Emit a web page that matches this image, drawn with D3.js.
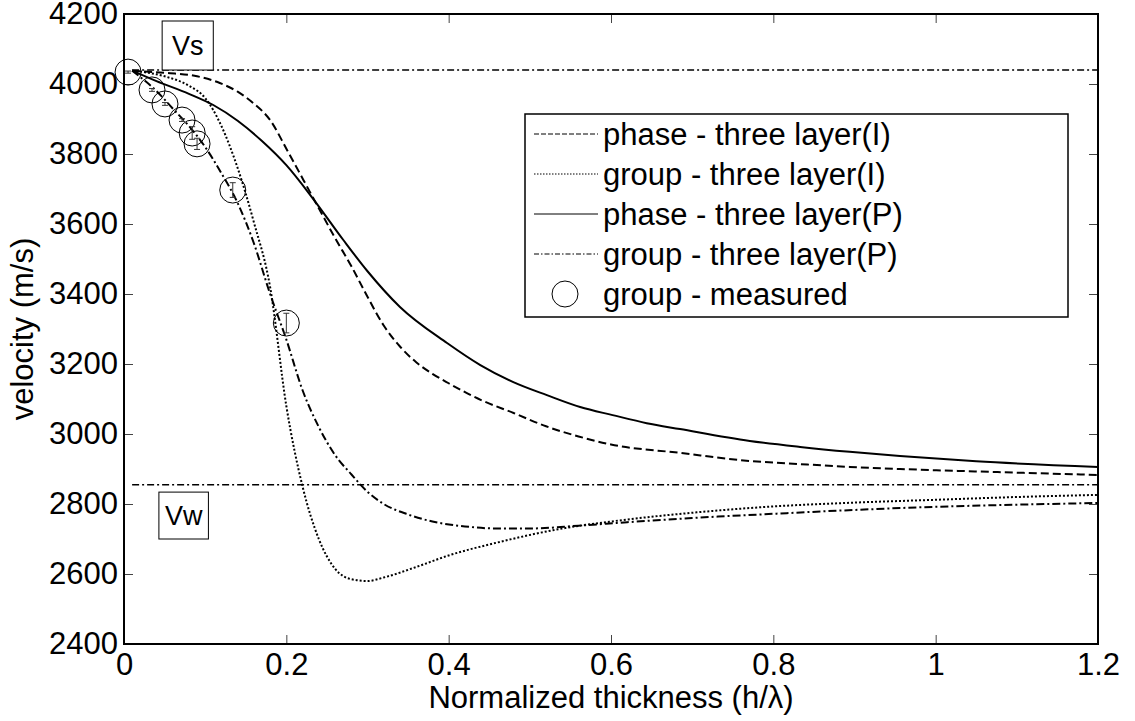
<!DOCTYPE html>
<html>
<head>
<meta charset="utf-8">
<script src="https://cdn.jsdelivr.net/npm/d3@7"></script>
<style>
  body { margin: 0; background: #fff; }
  text { font-family: "Liberation Sans", Arial, sans-serif; fill: #000; }
</style>
</head>
<body>
<div id="chart"></div>
<script>
// normalized thickness (h/lambda) and velocities (m/s)
var phaseI_x = [0.01, 0.03, 0.057, 0.09, 0.118, 0.14, 0.159, 0.18, 0.201, 0.221, 0.24, 0.26, 0.28, 0.30, 0.32, 0.34, 0.36, 0.38, 0.40, 0.44, 0.48, 0.52, 0.56, 0.60, 0.685, 0.771, 0.833, 0.894, 0.956, 1.05, 1.2];
var phaseI_v = [4038, 4035, 4031, 4022, 4003, 3978, 3946, 3897, 3811, 3726, 3645, 3560, 3480, 3392, 3310, 3250, 3205, 3172, 3145, 3097, 3060, 3022, 2993, 2970, 2946, 2923, 2914, 2906, 2900, 2893, 2883];

var groupI_x = [0.01, 0.03, 0.05, 0.08, 0.1, 0.12, 0.14, 0.16, 0.18, 0.2, 0.22, 0.24, 0.26, 0.28, 0.3, 0.32, 0.36, 0.4, 0.46, 0.54, 0.6, 0.7, 0.8, 0.9, 1.0, 1.1, 1.2];
var groupI_v = [4038, 4032, 4022, 3995, 3960, 3880, 3760, 3605, 3420, 3080, 2850, 2700, 2615, 2585, 2580, 2590, 2620, 2653, 2690, 2730, 2750, 2775, 2793, 2804, 2812, 2820, 2826];

var phaseP_x = [0.01, 0.04, 0.08, 0.11, 0.14, 0.17, 0.20, 0.233, 0.27, 0.30, 0.34, 0.398, 0.439, 0.479, 0.521, 0.562, 0.602, 0.644, 0.685, 0.771, 0.833, 0.894, 0.956, 1.05, 1.2];
var phaseP_v = [4038, 4008, 3972, 3940, 3895, 3837, 3768, 3672, 3555, 3465, 3363, 3260, 3197, 3149, 3111, 3077, 3054, 3031, 3014, 2980, 2963, 2949, 2937, 2922, 2906];

var groupP_x = [0.01, 0.02, 0.04, 0.06, 0.08, 0.1, 0.12, 0.14, 0.16, 0.18, 0.2, 0.22, 0.24, 0.26, 0.28, 0.3, 0.32, 0.35, 0.38, 0.42, 0.46, 0.5, 0.56, 0.62, 0.7, 0.8, 0.9, 1.0, 1.1, 1.2];
var groupP_v = [4038, 4020, 3980, 3930, 3880, 3820, 3745, 3660, 3545, 3400, 3270, 3125, 3020, 2940, 2885, 2835, 2800, 2770, 2750, 2736, 2730, 2730, 2738, 2748, 2760, 2772, 2783, 2792, 2798, 2803];

var measured_x = [0.005, 0.0345, 0.0505, 0.0715, 0.084, 0.09, 0.134, 0.2];
var measured_v = [4034, 3983, 3943, 3897, 3860, 3829, 3697, 3317];
var measured_err = [3, 4, 4, 4, 18, 16, 21, 28];

var Vs = 4040;
var Vw = 2855;

var xTicks = [0, 0.2, 0.4, 0.6, 0.8, 1, 1.2];
var yTicks = [2400, 2600, 2800, 3000, 3200, 3400, 3600, 3800, 4000, 4200];

var seriesNames = ['phase - three layer(I)', 'group - three layer(I)', 'phase - three layer(P)', 'group - three layer(P)', 'group - measured'];

var W = 1135, H = 721;
var margin = {left: 124, top: 14, right: 37, bottom: 77};
var width = W - margin.left - margin.right;
var height = H - margin.top - margin.bottom;

var svg = d3.select('#chart')
  .append('svg')
  .attr('width', W)
  .attr('height', H);

svg.append('rect').attr('width', W).attr('height', H).attr('fill', '#fff');

var x = d3.scaleLinear().domain([0, 1.2]).range([0, width]);
var y = d3.scaleLinear().domain([2400, 4200]).range([height, 0]);

var g = svg.append('g')
  .attr('transform', 'translate(' + margin.left + ',' + margin.top + ')');

// axes, ticks pointing inward like matlab
function styleAxis(sel) {
  sel.select('.domain').remove();
  sel.selectAll('.tick line').attr('stroke', '#444').attr('stroke-width', 1);
  sel.selectAll('.tick text').style('font-size', '31px').attr('fill', '#000');
}

g.append('g')
  .attr('transform', 'translate(0,' + height + ')')
  .call(d3.axisBottom(x).tickValues(xTicks).tickFormat(d3.format('~g')).tickSizeInner(-9).tickSizeOuter(0).tickPadding(9))
  .call(styleAxis);

g.append('g')
  .call(d3.axisLeft(y).tickValues(yTicks).tickFormat(d3.format('d')).tickSizeInner(-9).tickSizeOuter(0).tickPadding(6))
  .call(styleAxis);

g.append('g')
  .call(d3.axisTop(x).tickValues(xTicks).tickFormat('').tickSizeInner(-9).tickSizeOuter(0))
  .call(styleAxis);

g.append('g')
  .attr('transform', 'translate(' + width + ',0)')
  .call(d3.axisRight(y).tickValues(yTicks).tickFormat('').tickSizeInner(-9).tickSizeOuter(0))
  .call(styleAxis);

g.append('rect')
  .attr('width', width)
  .attr('height', height)
  .attr('fill', 'none')
  .attr('stroke', '#000')
  .attr('stroke-width', 2);

// axis labels
svg.append('text')
  .attr('x', margin.left + width / 2)
  .attr('y', 708)
  .attr('text-anchor', 'middle')
  .style('font-size', '31px')
  .text('Normalized thickness (h/\u03bb)');

svg.append('text')
  .attr('transform', 'translate(33,' + (margin.top + height / 2) + ') rotate(-90)')
  .attr('text-anchor', 'middle')
  .style('font-size', '31px')
  .text('velocity (m/s)');

// Vs / Vw reference lines
[Vs, Vw].forEach(function (v) {
  g.append('line')
    .attr('x1', x(0.01)).attr('x2', width)
    .attr('y1', y(v)).attr('y2', y(v))
    .attr('stroke', '#000')
    .attr('stroke-width', 1.5)
    .attr('stroke-dasharray', '7,3,2,3');
});

// boxed labels
var boxes = [
  {label: 'Vs', x0: 0.047, x1: 0.110, v0: 4180, v1: Vs},
  {label: 'Vw', x0: 0.043, x1: 0.104, v0: 2834, v1: 2700}
];
boxes.forEach(function (b) {
  g.append('rect')
    .attr('x', x(b.x0)).attr('y', y(b.v0))
    .attr('width', x(b.x1) - x(b.x0))
    .attr('height', y(b.v1) - y(b.v0))
    .attr('fill', '#fff')
    .attr('stroke', '#000')
    .attr('stroke-width', 1);
  g.append('text')
    .attr('x', (x(b.x0) + x(b.x1)) / 2)
    .attr('y', (y(b.v0) + y(b.v1)) / 2)
    .attr('dy', '0.36em')
    .attr('text-anchor', 'middle')
    .style('font-size', '27px')
    .text(b.label);
});

// model curves
var styles = [
  {dash: '8,4', w: 2},
  {dash: '2,2', w: 2},
  {dash: null, w: 2},
  {dash: '8,3,2,3', w: 2}
];
var curves = [
  d3.zip(phaseI_x, phaseI_v),
  d3.zip(groupI_x, groupI_v),
  d3.zip(phaseP_x, phaseP_v),
  d3.zip(groupP_x, groupP_v)
];

var line = d3.line()
  .x(function (d) { return x(d[0]); })
  .y(function (d) { return y(d[1]); })
  .curve(d3.curveMonotoneX);

curves.forEach(function (c, i) {
  g.append('path')
    .datum(c)
    .attr('d', line)
    .attr('fill', 'none')
    .attr('stroke', '#000')
    .attr('stroke-width', styles[i].w)
    .attr('stroke-dasharray', styles[i].dash);
});

// measured points with error bars
var meas = measured_x.map(function (d, i) {
  return {x: d, v: measured_v[i], e: measured_err[i]};
});

var pts = g.selectAll('.meas')
  .data(meas)
  .enter().append('g')
  .attr('class', 'meas');

pts.append('line')
  .attr('x1', function (d) { return x(d.x); })
  .attr('x2', function (d) { return x(d.x); })
  .attr('y1', function (d) { return y(d.v + d.e); })
  .attr('y2', function (d) { return y(d.v - d.e); })
  .attr('stroke', '#333').attr('stroke-width', 1);

[1, -1].forEach(function (s) {
  pts.append('line')
    .attr('x1', function (d) { return x(d.x) - 3; })
    .attr('x2', function (d) { return x(d.x) + 3; })
    .attr('y1', function (d) { return y(d.v + s * d.e); })
    .attr('y2', function (d) { return y(d.v + s * d.e); })
    .attr('stroke', '#333').attr('stroke-width', 1);
});

pts.append('circle')
  .attr('cx', function (d) { return x(d.x); })
  .attr('cy', function (d) { return y(d.v); })
  .attr('r', 13)
  .attr('fill', 'none')
  .attr('stroke', '#000')
  .attr('stroke-width', 1);

// legend
var legend = svg.append('g').attr('class', 'legend');
legend.append('rect')
  .attr('x', 525).attr('y', 114)
  .attr('width', 543).attr('height', 203)
  .attr('fill', '#fff')
  .attr('stroke', '#000')
  .attr('stroke-width', 1.5);

var item = legend.selectAll('.item')
  .data(seriesNames)
  .enter().append('g')
  .attr('class', 'item')
  .attr('transform', function (d, i) { return 'translate(0,' + (134 + i * 40) + ')'; });

item.filter(function (d, i) { return i < 4; })
  .append('line')
  .attr('x1', 534).attr('x2', 598)
  .attr('stroke', '#000')
  .attr('stroke-width', 1)
  .attr('stroke-dasharray', function (d, i) { return ['5,2', '1.5,1.5', null, '5,2,1.5,2'][i]; });

item.filter(function (d, i) { return i === 4; })
  .append('circle')
  .attr('cx', 565).attr('r', 13)
  .attr('fill', 'none').attr('stroke', '#000').attr('stroke-width', 1);

item.append('text')
  .attr('x', 603)
  .attr('dy', '0.36em')
  .style('font-size', '31px')
  .text(function (d) { return d; });
</script>
</body>
</html>
